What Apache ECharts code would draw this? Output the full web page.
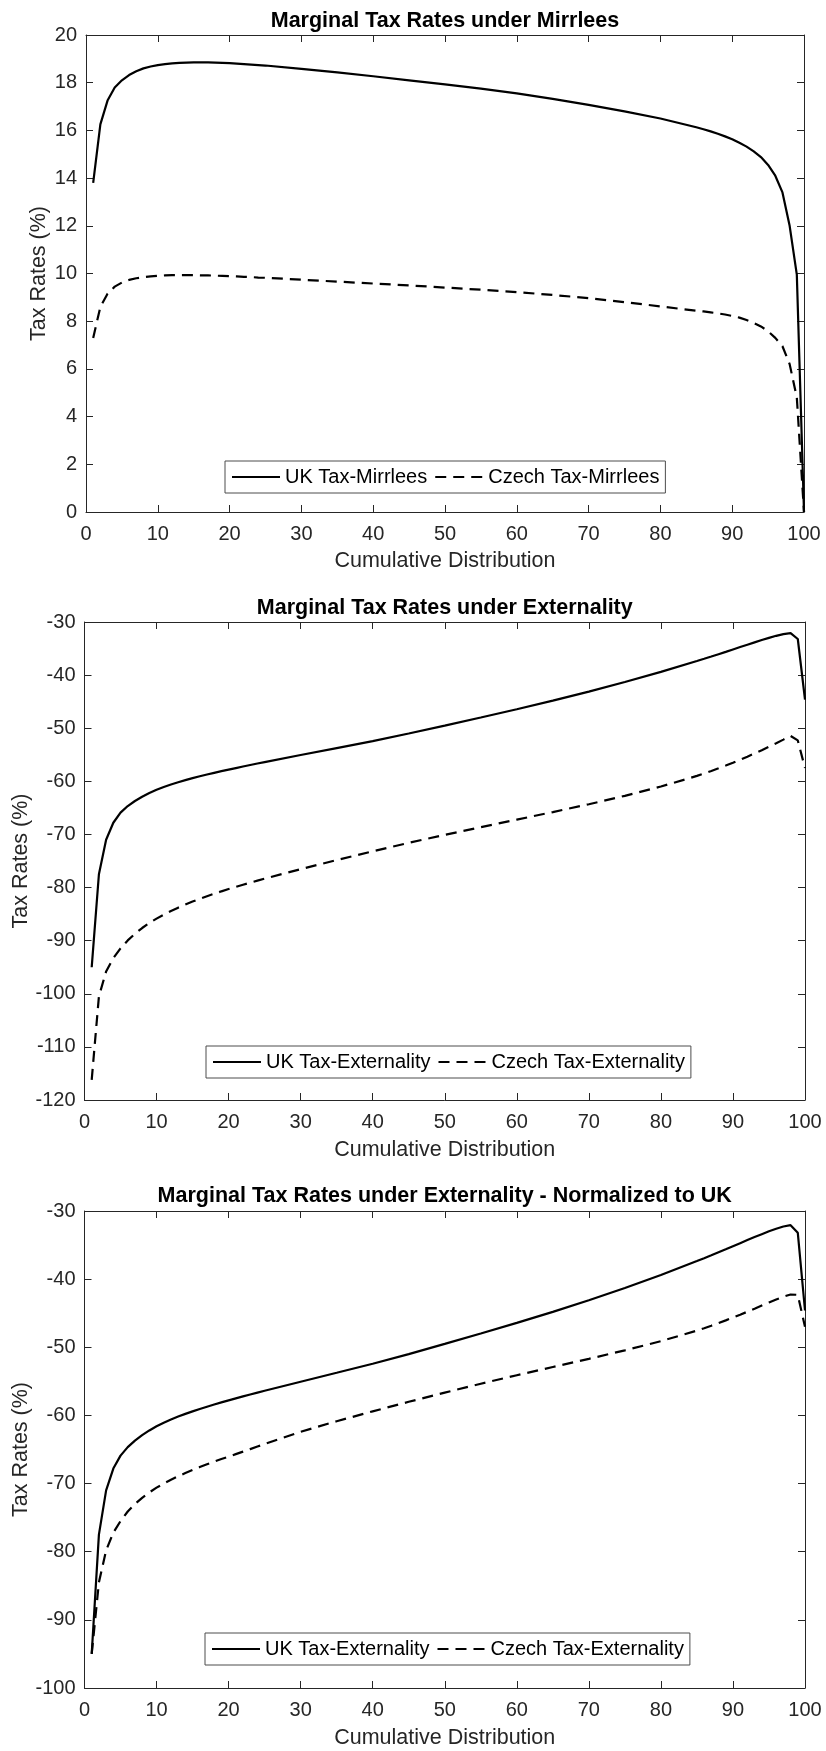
<!DOCTYPE html>
<html lang="en">
<head>
    <meta charset="UTF-8">
    <meta name="viewport" content="width=device-width, initial-scale=1.0">
    <style>
        html, body {
            margin: 0;
            padding: 0;
            background: #ffffff;
        }

        #chart {
            width: 826px;
            height: 1751px;
        }
    </style>
    <script src="https://cdn.jsdelivr.net/npm/echarts@6/dist/echarts.min.js"></script>
</head>
<body>
    <div id="chart"></div>

    <script>
        // cumulative distribution points (percentiles)
        var xPts = [1, 2, 3, 4, 5, 6, 7, 8, 9, 10, 11, 12, 13, 14, 15, 16, 17, 18, 19, 20, 21, 22, 23, 24, 25,
            30, 35, 40, 45, 50, 55, 60, 65, 70, 75, 80, 85,
            86, 87, 88, 89, 90, 91, 92, 93, 94, 95, 96, 97, 98, 99, 100];

        // panel 1 - Mirrlees
        var ukMirrlees = [13.8, 16.25, 17.25, 17.8, 18.1, 18.32, 18.48, 18.6, 18.68, 18.74, 18.78, 18.81, 18.83, 18.84, 18.85, 18.85, 18.85, 18.84, 18.83, 18.82, 18.8, 18.78, 18.76, 18.74, 18.72,
            18.58, 18.43, 18.27, 18.1, 17.93, 17.75, 17.55, 17.32, 17.07, 16.8, 16.5, 16.13,
            16.05, 15.96, 15.86, 15.75, 15.63, 15.48, 15.32, 15.12, 14.88, 14.55, 14.1, 13.4, 12.0, 9.95, 0];
        var czMirrlees = [7.3, 8.6, 9.15, 9.45, 9.62, 9.73, 9.8, 9.85, 9.88, 9.9, 9.92, 9.93, 9.93, 9.93, 9.93, 9.92, 9.92, 9.91, 9.9, 9.89, 9.88, 9.86, 9.85, 9.83, 9.82,
            9.74, 9.66, 9.58, 9.5, 9.41, 9.32, 9.22, 9.1, 8.97, 8.8, 8.62, 8.44,
            8.41, 8.37, 8.33, 8.28, 8.22, 8.15, 8.05, 7.93, 7.78, 7.58, 7.3, 6.95, 6.2, 4.8, 0];

        // panel 2 - externality (the UK curve is reused in panel 3)
        var ukExternality = [-95, -77.5, -71, -67.8, -65.9, -64.65, -63.7, -62.9, -62.2, -61.6, -61.07, -60.6, -60.17, -59.77, -59.4, -59.05, -58.72, -58.4, -58.09, -57.79, -57.5, -57.21, -56.93, -56.65, -56.38,
            -55.05, -53.74, -52.42, -51.0, -49.5, -47.98, -46.42, -44.8, -43.1, -41.3, -39.4, -37.35,
            -36.93, -36.5, -36.06, -35.62, -35.17, -34.72, -34.27, -33.83, -33.4, -32.98, -32.6, -32.27, -32.08, -33.2, -44.6];
        var czExternality = [-116.2, -100.5, -95.8, -93.3, -91.45, -89.95, -88.7, -87.62, -86.68, -85.85, -85.1, -84.41, -83.78, -83.19, -82.64, -82.12, -81.63, -81.16, -80.71, -80.28, -79.87, -79.47, -79.08, -78.7, -78.33,
            -76.53, -74.83, -73.18, -71.58, -70.08, -68.63, -67.21, -65.79, -64.31, -62.73, -60.98, -58.98,
            -58.53, -58.05, -57.55, -57.03, -56.49, -55.93, -55.35, -54.75, -54.13, -53.49, -52.83, -52.15, -51.45, -52.3, -57.5];

        // panel 3 - Czech externality normalized to UK
        var czNormalized = [-95, -84.5, -79.8, -77.2, -75.5, -74.1, -73.0, -72.1, -71.3, -70.6, -70.0, -69.45, -68.93, -68.45, -68.0, -67.58, -67.17, -66.78, -66.4, -66.05, -65.68, -65.31, -64.94, -64.57, -64.2,
            -62.4, -60.85, -59.4, -58.0, -56.65, -55.35, -54.1, -52.9, -51.7, -50.45, -49.1, -47.55,
            -47.2, -46.83, -46.45, -46.05, -45.64, -45.22, -44.78, -44.33, -43.87, -43.42, -42.98, -42.58, -42.25, -42.3, -47.0];

        var titles = ['Marginal Tax Rates under Mirrlees',
            'Marginal Tax Rates under Externality',
            'Marginal Tax Rates under Externality - Normalized to UK'];
        var legendNames = [['UK Tax-Mirrlees', 'Czech Tax-Mirrlees'],
            ['UK Tax-Externality', 'Czech Tax-Externality'],
            ['UK Tax-Externality', 'Czech Tax-Externality']];
        var yRanges = [[0, 20, 2], [-120, -30, 10], [-100, -30, 10]];

        var FONT = 'Liberation Sans, Arial, Helvetica, sans-serif';
        var AXIS_COLOR = '#262626';
        var W = 826;

        // layout of each panel, measured on the reference
        var panels = [
            { left: 86, right: 22, top: 35, height: 477, titleTop: 10, xNameGap: 38, yNameGap: 36, legendLeft: 225, legendTop: 461, data: [ukMirrlees, czMirrlees] },
            { left: 84.5, right: 21, top: 622, height: 478, titleTop: 597, xNameGap: 39, yNameGap: 52, legendLeft: 206, legendTop: 1046, data: [ukExternality, czExternality] },
            { left: 84.5, right: 21, top: 1211, height: 477, titleTop: 1185, xNameGap: 39, yNameGap: 52, legendLeft: 205, legendTop: 1633, data: [ukExternality, czNormalized] }
        ];

        var chart = echarts.init(document.getElementById('chart'), null, { renderer: 'canvas' });

        var option = {
            backgroundColor: '#ffffff',
            animation: false,
            title: [],
            grid: [],
            xAxis: [],
            yAxis: [],
            legend: [],
            series: []
        };

        var lineCol = { color: AXIS_COLOR, width: 1 };

        panels.forEach(function (p, i) {
            option.grid.push({ left: p.left, right: p.right, top: p.top, height: p.height });

            option.title.push({
                text: titles[i],
                left: (p.left + W - p.right) / 2,
                top: p.titleTop,
                textAlign: 'center',
                textVerticalAlign: 'top',
                padding: 0,
                textStyle: { fontFamily: FONT, fontSize: 21.5, fontWeight: 'bold', color: '#000' }
            });

            // bottom + top x axes (box with inward ticks, MATLAB style)
            ['bottom', 'top'].forEach(function (pos) {
                option.xAxis.push({
                    type: 'value',
                    gridIndex: i,
                    position: pos,
                    min: 0,
                    max: 100,
                    interval: 10,
                    name: pos === 'bottom' ? 'Cumulative Distribution' : '',
                    nameLocation: 'middle',
                    nameGap: p.xNameGap,
                    nameMoveOverlap: false,
                    nameTextStyle: { fontFamily: FONT, fontSize: 21.5, color: AXIS_COLOR },
                    axisLine: { show: true, onZero: false, lineStyle: lineCol },
                    axisTick: { show: true, inside: true, length: 7, lineStyle: lineCol },
                    axisLabel: {
                        show: pos === 'bottom',
                        margin: 12,
                        fontFamily: FONT,
                        fontSize: 20,
                        color: AXIS_COLOR
                    },
                    splitLine: { show: false }
                });
            });

            // left + right y axes
            ['left', 'right'].forEach(function (pos) {
                option.yAxis.push({
                    type: 'value',
                    gridIndex: i,
                    position: pos,
                    min: yRanges[i][0],
                    max: yRanges[i][1],
                    interval: yRanges[i][2],
                    name: pos === 'left' ? 'Tax Rates (%)' : '',
                    nameLocation: 'middle',
                    nameGap: p.yNameGap,
                    nameMoveOverlap: false,
                    nameTextStyle: { fontFamily: FONT, fontSize: 21.5, color: AXIS_COLOR },
                    axisLine: { show: true, onZero: false, lineStyle: lineCol },
                    axisTick: { show: true, inside: true, length: 7, lineStyle: lineCol },
                    axisLabel: {
                        show: pos === 'left',
                        margin: 9,
                        fontFamily: FONT,
                        fontSize: 20,
                        color: AXIS_COLOR
                    },
                    splitLine: { show: false }
                });
            });

            option.legend.push({
                data: legendNames[i],
                left: p.legendLeft,
                top: p.legendTop,
                orient: 'horizontal',
                itemWidth: 48,
                itemHeight: 14,
                itemGap: 7,
                padding: [6, 6, 6, 6],
                borderColor: '#4d4d4d',
                borderWidth: 1,
                backgroundColor: '#ffffff',
                selectedMode: false,
                // hide the marker dot, keep only the line sample
                itemStyle: { color: 'rgba(0,0,0,0)', borderWidth: 0, opacity: 0 },
                textStyle: { fontFamily: FONT, fontSize: 20, color: '#000' }
            });

            p.data.forEach(function (vals, j) {
                option.series.push({
                    name: legendNames[i][j],
                    type: 'line',
                    xAxisIndex: 2 * i,
                    yAxisIndex: 2 * i,
                    showSymbol: false,
                    symbol: 'none',
                    silent: true,
                    lineStyle: { color: '#000', width: 2.2, type: j === 0 ? 'solid' : [11, 7] },
                    itemStyle: { color: '#000' },
                    data: xPts.map(function (x, k) { return [x, vals[k]]; })
                });
            });
        });

        chart.setOption(option);
    </script>
</body>
</html>
